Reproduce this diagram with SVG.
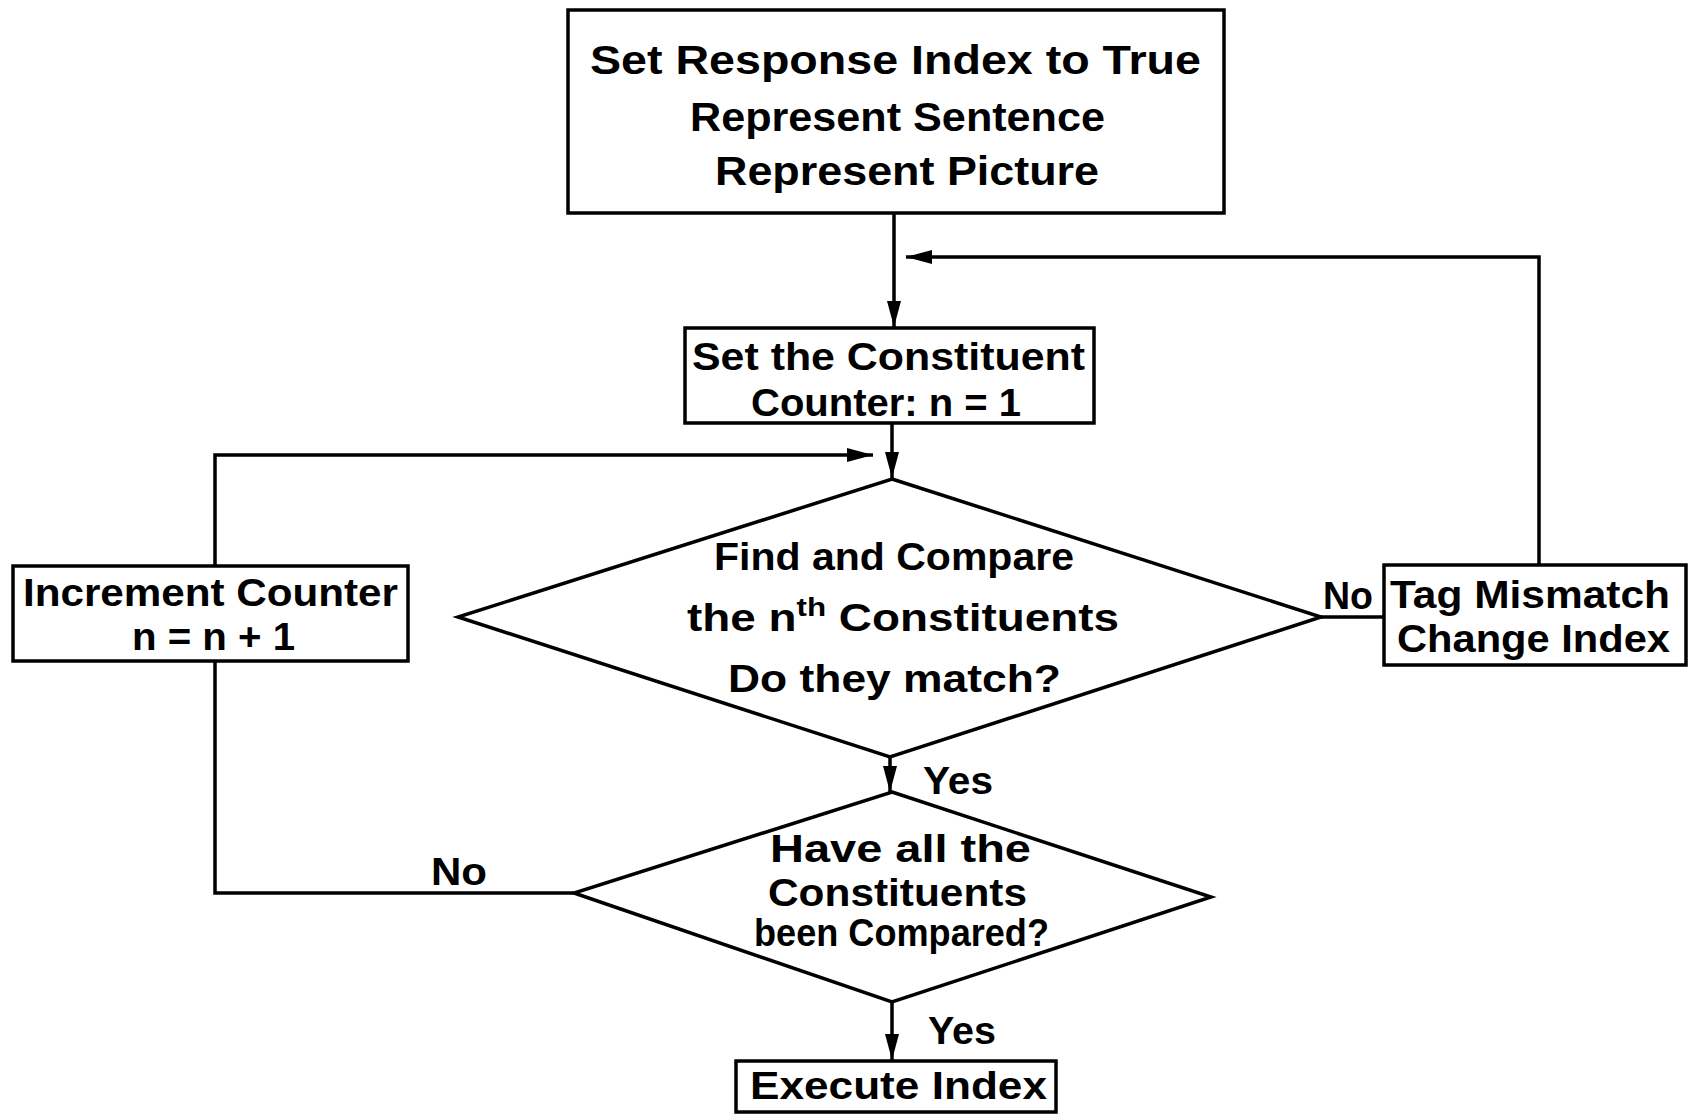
<svg xmlns="http://www.w3.org/2000/svg" width="1689" height="1114" viewBox="0 0 1689 1114">
<style>
.box{fill:none;stroke:#000;stroke-width:3.5}
.ln{fill:none;stroke:#000;stroke-width:3.5}
text{font-family:"Liberation Sans",Arial,sans-serif;font-weight:bold;fill:#000}
.t{font-size:38px}
.h{font-size:40px}
</style>
<defs>
<marker id="ah" viewBox="0 0 26 14" refX="26" refY="7" markerWidth="26" markerHeight="14" markerUnits="userSpaceOnUse" orient="auto">
<path d="M0,0 L26,7 L0,14 Z" fill="#000"/>
</marker>
</defs>
<rect width="1689" height="1114" fill="#fff"/>
<g id="connectors">
<path class="ln" d="M894,213 V327" marker-end="url(#ah)"/>
<path class="ln" d="M1539,565 V257 H906" marker-end="url(#ah)"/>
<path class="ln" d="M892,423 V478" marker-end="url(#ah)"/>
<path class="ln" d="M215,566 V455 H873" marker-end="url(#ah)"/>
<path class="ln" d="M890,757 V792" marker-end="url(#ah)"/>
<path class="ln" d="M1321,617 H1384"/>
<path class="ln" d="M574,893 H215 V661"/>
<path class="ln" d="M892,1002 V1060" marker-end="url(#ah)"/>
</g>
<g id="start">
<rect class="box" x="568" y="10" width="656" height="203"/>
<text class="h" x="590" y="74" textLength="611" lengthAdjust="spacingAndGlyphs">Set Response Index to True</text>
<text class="h" x="690" y="131" textLength="415" lengthAdjust="spacingAndGlyphs">Represent Sentence</text>
<text class="h" x="715" y="185" textLength="384" lengthAdjust="spacingAndGlyphs">Represent Picture</text>
</g>
<g id="setcounter">
<rect class="box" x="685" y="328" width="409" height="95"/>
<text class="t" x="692" y="370" textLength="393" lengthAdjust="spacingAndGlyphs">Set the Constituent</text>
<text class="t" x="751" y="416" textLength="270" lengthAdjust="spacingAndGlyphs">Counter: n = 1</text>
</g>
<g id="compare">
<polygon class="box" points="892,479 1321,617 890,757 458,617"/>
<text class="t" x="714" y="570" textLength="360" lengthAdjust="spacingAndGlyphs">Find and Compare</text>
<text class="t" x="687" y="631" textLength="432" lengthAdjust="spacingAndGlyphs">the n<tspan font-size="26" dy="-15">th</tspan><tspan dy="15"> Constituents</tspan></text>
<text class="t" x="728" y="692" textLength="333" lengthAdjust="spacingAndGlyphs">Do they match?</text>
</g>
<g id="tag">
<rect class="box" x="1384" y="565" width="302" height="100"/>
<text class="t" x="1390" y="608" textLength="280" lengthAdjust="spacingAndGlyphs">Tag Mismatch</text>
<text class="t" x="1397" y="652" textLength="273" lengthAdjust="spacingAndGlyphs">Change Index</text>
<text class="t" x="1323" y="609" textLength="50" lengthAdjust="spacingAndGlyphs">No</text>
</g>
<g id="increment">
<rect class="box" x="13" y="566" width="395" height="95"/>
<text class="t" x="23" y="606" textLength="375" lengthAdjust="spacingAndGlyphs">Increment Counter</text>
<text class="t" x="132" y="650" textLength="163" lengthAdjust="spacingAndGlyphs">n = n + 1</text>
</g>
<g id="allcompared">
<polygon class="box" points="892,792 1211,897 892,1002 574,893"/>
<text class="t" x="770" y="862" textLength="261" lengthAdjust="spacingAndGlyphs">Have all the</text>
<text class="t" x="768" y="906" textLength="259" lengthAdjust="spacingAndGlyphs">Constituents</text>
<text class="t" x="754" y="946" textLength="295" lengthAdjust="spacingAndGlyphs">been Compared?</text>
<text class="t" x="923" y="794" textLength="70" lengthAdjust="spacingAndGlyphs">Yes</text>
<text class="t" x="431" y="885" textLength="56" lengthAdjust="spacingAndGlyphs">No</text>
<text class="t" x="928" y="1044" textLength="68" lengthAdjust="spacingAndGlyphs">Yes</text>
</g>
<g id="execute">
<rect class="box" x="736" y="1061" width="320" height="51"/>
<text class="t" x="750" y="1099" textLength="297" lengthAdjust="spacingAndGlyphs">Execute Index</text>
</g>
</svg>
